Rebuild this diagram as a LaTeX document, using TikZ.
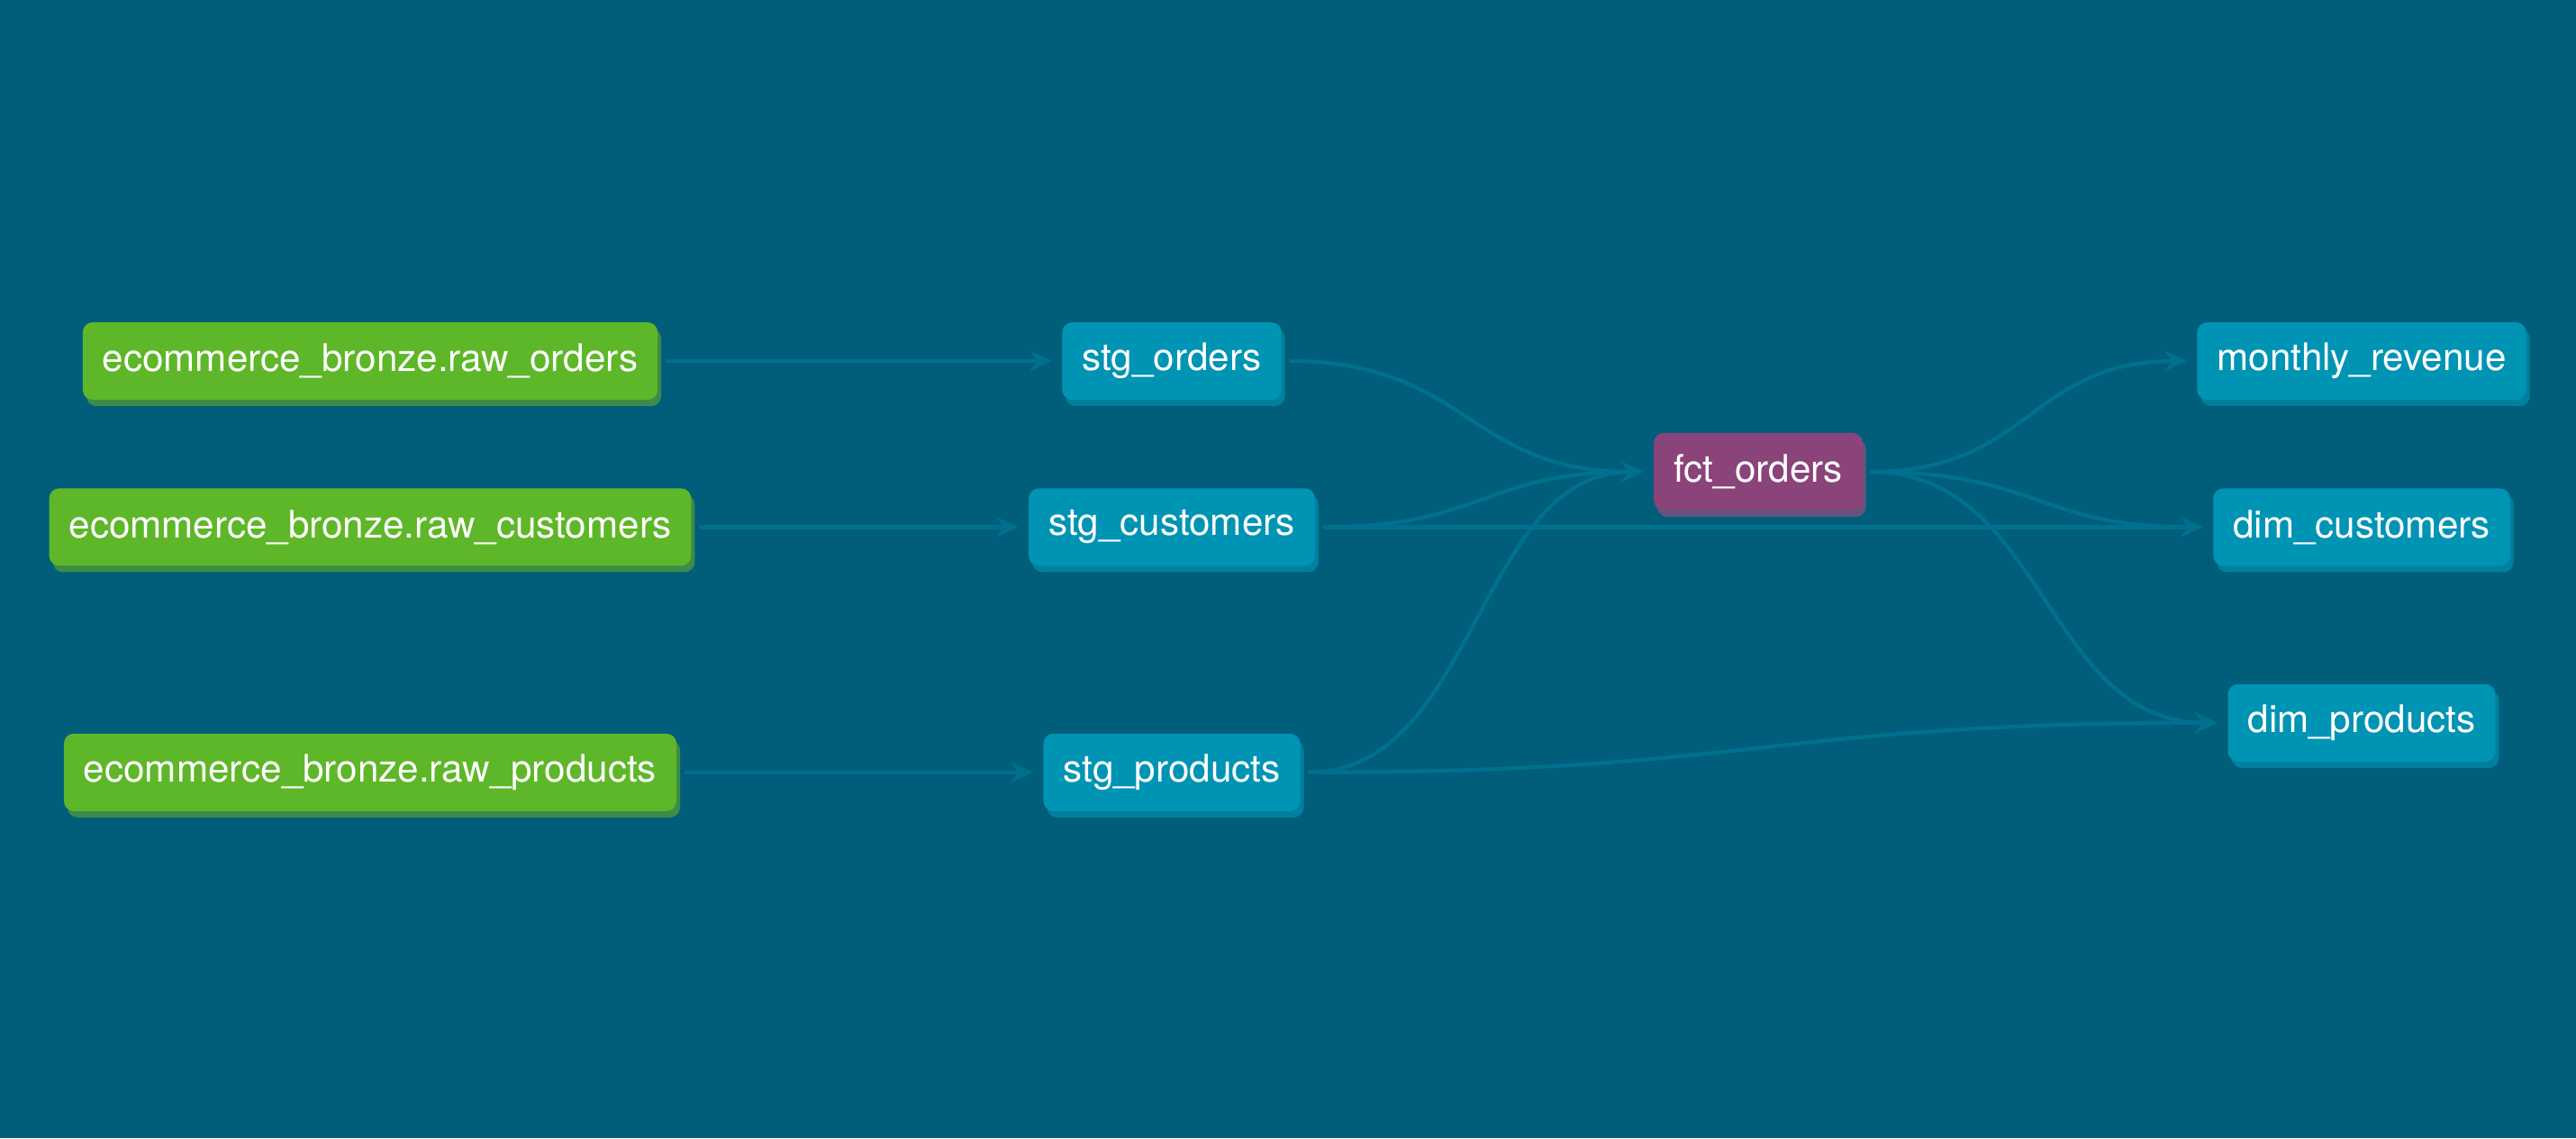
\documentclass[tikz,border=0pt]{standalone}
\usepackage{fontspec}
\setmainfont{TeX Gyre Heros}
\usetikzlibrary{positioning,arrows.meta,calc,shadows}
\definecolor{dagbg}{HTML}{005E7A}
\definecolor{flowline}{HTML}{00708E}
\definecolor{srcgreen}{HTML}{5EB728}
\definecolor{srcshade}{HTML}{3C8B4A}
\definecolor{mdlblue}{HTML}{0094B4}
\definecolor{mdlshade}{HTML}{00809E}
\definecolor{fctpurple}{HTML}{8A447A}
\definecolor{fctshade}{HTML}{62547F}
\tikzset{
  model/.style={rounded corners=0.11cm, minimum height=0.86cm, inner xsep=0.22cm,
    text=white, font=\fontsize{12}{14}\selectfont},
  source/.style={model, fill=srcgreen,
    drop shadow={shadow xshift=0.04cm, shadow yshift=-0.07cm, opacity=1, fill=srcshade}},
  stage/.style={model, fill=mdlblue,
    drop shadow={shadow xshift=0.04cm, shadow yshift=-0.07cm, opacity=1, fill=mdlshade}},
  fact/.style={model, fill=fctpurple,
    drop shadow={shadow xshift=0.04cm, shadow yshift=-0.07cm, opacity=1, fill=fctshade}},
  hbez/.style={to path={let \p1=(\tikztostart), \p2=(\tikztotarget), \n1={0.5*(\x2-\x1)} in
    .. controls (\x1+\n1,\y1) and (\x2-\n1,\y2) .. (\tikztotarget) \tikztonodes}},
}

\begin{document}
\begin{tikzpicture}[
  every edge/.style={draw=flowline, line width=1.2pt, hbez,
    -{Stealth[length=7pt, width=6.5pt, inset=2.5pt]},
    shorten >=0.11cm, shorten <=0.08cm},
]

\fill[dagbg] (0,0) rectangle (28.6,12.64);
\useasboundingbox (0,0) rectangle (28.6,12.64);

% sources
\node[source] (raw_orders) at (4.11,8.63) {ecommerce\_bronze.raw\_orders};
\node[source, below=0.97cm of raw_orders] (raw_customers) {ecommerce\_bronze.raw\_customers};
\node[source, below=1.85cm of raw_customers] (raw_products) {ecommerce\_bronze.raw\_products};

% staging
\node[stage] (stg_orders) at (13.01,8.63) {stg\_orders};
\node[stage, below=0.97cm of stg_orders] (stg_customers) {stg\_customers};
\node[stage, below=1.85cm of stg_customers] (stg_products) {stg\_products};

% marts
\node[fact] (fct_orders) at (19.52,7.40) {fct\_orders};
\node[stage] (monthly_revenue) at (26.22,8.63) {monthly\_revenue};
\node[stage, below=0.97cm of monthly_revenue] (dim_customers) {dim\_customers};
\node[stage, below=1.30cm of dim_customers] (dim_products) {dim\_products};

\path
(raw_orders.east) edge (stg_orders.west)
(raw_customers.east) edge (stg_customers.west)
(raw_products.east) edge (stg_products.west)

(stg_orders.east) edge (fct_orders.west)
(stg_customers.east) edge (fct_orders.west)
(stg_products.east) edge (fct_orders.west)
(stg_customers.east) edge (dim_customers.west)
(stg_products.east) edge (dim_products.west)

(fct_orders.east) edge (monthly_revenue.west)
(fct_orders.east) edge (dim_customers.west)
(fct_orders.east) edge (dim_products.west);

\end{tikzpicture}
\end{document}
